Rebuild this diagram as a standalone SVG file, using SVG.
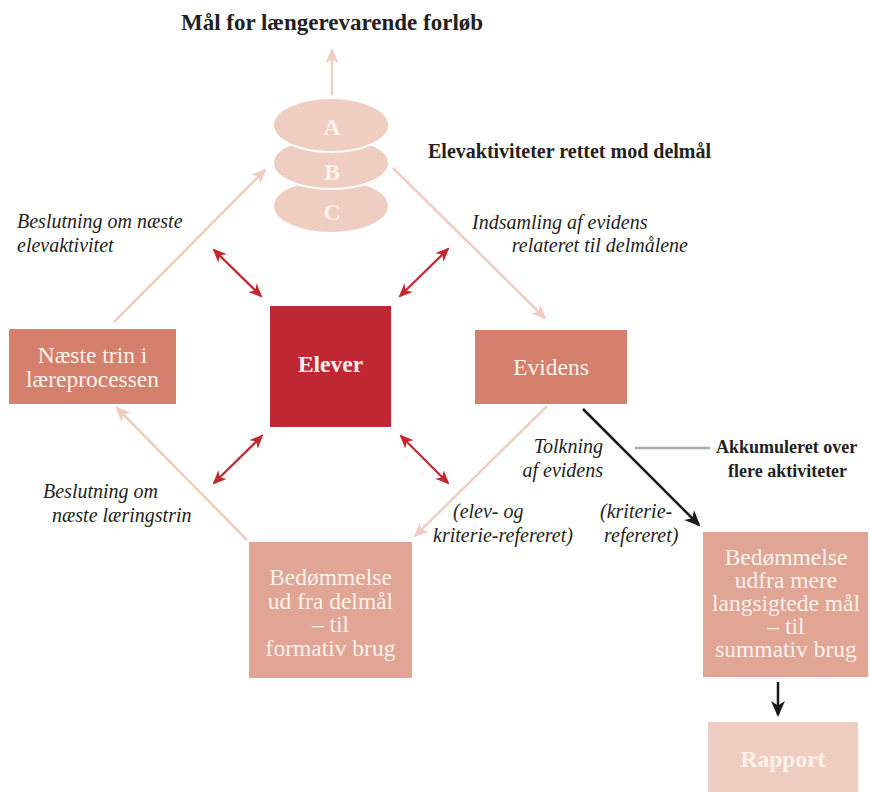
<svg xmlns="http://www.w3.org/2000/svg" width="870" height="792" viewBox="0 0 870 792">
<style>
.t{font-family:"Liberation Serif","Times New Roman",serif;fill:#231f20}
.b{font-weight:bold}
.i{font-style:italic;font-size:20px}
.n{font-family:"Liberation Serif","Times New Roman",serif;fill:#fcf1ec;font-size:23.5px;text-anchor:middle}
.lt{stroke:#f0cdc1;stroke-width:2.5;fill:none}
.rd{stroke:#c1272d;stroke-width:2.2;fill:none}
.bk{stroke:#1a1a1a;stroke-width:2.5;fill:none}
</style>
<defs>
<marker id="ml" markerUnits="userSpaceOnUse" markerWidth="18" markerHeight="14" refX="13" refY="6.5" orient="auto-start-reverse"><path d="M0,0 L15,6.5 L0,13 L4,6.5 z" fill="#f0cdc1"/></marker>
<marker id="mr" markerUnits="userSpaceOnUse" markerWidth="18" markerHeight="14" refX="12" refY="6" orient="auto-start-reverse"><path d="M0,0 L14,6 L0,12 L4,6 z" fill="#c1272d"/></marker>
<marker id="mb" markerUnits="userSpaceOnUse" markerWidth="20" markerHeight="16" refX="14" refY="7" orient="auto"><path d="M0,0 L16,7 L0,14 L4.5,7 z" fill="#1a1a1a"/></marker>
</defs>

<text class="t b" x="332" y="30" font-size="23" text-anchor="middle">Mål for længerevarende forløb</text>

<g id="connectors">
<line class="lt" x1="332" y1="95" x2="332" y2="50" marker-end="url(#ml)"/>
<line class="lt" x1="114" y1="322" x2="265" y2="170" marker-end="url(#ml)"/>
<line class="lt" x1="393" y1="168" x2="545" y2="318" marker-end="url(#ml)"/>
<line class="lt" x1="547" y1="406" x2="415" y2="536" marker-end="url(#ml)"/>
<line class="lt" x1="247" y1="540" x2="117" y2="408" marker-end="url(#ml)"/>
<line class="rd" x1="214" y1="250" x2="261" y2="296" marker-start="url(#mr)" marker-end="url(#mr)"/>
<line class="rd" x1="448" y1="249" x2="400" y2="296" marker-start="url(#mr)" marker-end="url(#mr)"/>
<line class="rd" x1="262" y1="436" x2="214" y2="483" marker-start="url(#mr)" marker-end="url(#mr)"/>
<line class="rd" x1="401" y1="436" x2="448" y2="483" marker-start="url(#mr)" marker-end="url(#mr)"/>
<line class="bk" x1="583" y1="409" x2="699" y2="525" marker-end="url(#mb)"/>
<line class="bk" x1="778" y1="682" x2="778" y2="715" marker-end="url(#mb)"/>
<line x1="635" y1="448" x2="710" y2="448" stroke="#a7a9ac" stroke-width="2.5"/>
</g>

<g id="stack">
<ellipse cx="331" cy="206" rx="58" ry="27" fill="#f0cdc1" stroke="#fff" stroke-width="2"/>
<ellipse cx="331" cy="163" rx="58" ry="26" fill="#f0cdc1" stroke="#fff" stroke-width="2"/>
<ellipse cx="331" cy="125" rx="58" ry="27" fill="#f0cdc1" stroke="#fff" stroke-width="2"/>
<text class="n b" x="332" y="135" font-size="19">A</text>
<text class="n b" x="332" y="180" font-size="19">B</text>
<text class="n b" x="332" y="220" font-size="19">C</text>
</g>

<text class="t b" x="428" y="158" font-size="20">Elevaktiviteter rettet mod delmål</text>

<g id="labels">
<text class="t i" x="17" y="228">Beslutning om næste</text>
<text class="t i" x="17" y="252">elevaktivitet</text>
<text class="t i" x="472" y="229">Indsamling af evidens</text>
<text class="t i" x="688" y="252" text-anchor="end">relateret til delmålene</text>
<text class="t i" x="603" y="453" text-anchor="end">Tolkning</text>
<text class="t i" x="603" y="477" text-anchor="end">af evidens</text>
<text class="t i" x="453" y="518">(elev- og</text>
<text class="t i" x="433" y="542">kriterie-refereret)</text>
<text class="t i" x="600" y="518">(kriterie-</text>
<text class="t i" x="604" y="542">refereret)</text>
<text class="t i" x="43" y="498">Beslutning om</text>
<text class="t i" x="52" y="522">næste læringstrin</text>
<text class="t b" x="716" y="453" font-size="18">Akkumuleret over</text>
<text class="t b" x="728" y="477" font-size="18">flere aktiviteter</text>
</g>

<g id="naeste">
<rect x="9" y="329" width="167" height="75" fill="#d4806c"/>
<text class="n" x="92.5" y="363">Næste trin i</text>
<text class="n" x="92.5" y="387">læreprocessen</text>
</g>

<g id="elever">
<rect x="270" y="306" width="121" height="121" fill="#bf2733"/>
<text class="n b" x="330.5" y="372" font-size="22">Elever</text>
</g>

<g id="evidens">
<rect x="475" y="330" width="152" height="74" fill="#d4806c"/>
<text class="n" x="551" y="375">Evidens</text>
</g>

<g id="formativ">
<rect x="249" y="542" width="163" height="136" fill="#e0a594"/>
<text class="n" x="330.5" y="585">Bedømmelse</text>
<text class="n" x="330.5" y="609">ud fra delmål</text>
<text class="n" x="330.5" y="632">– til</text>
<text class="n" x="330.5" y="656">formativ brug</text>
</g>

<g id="summativ">
<rect x="703" y="532" width="165" height="145" fill="#e0a594"/>
<text class="n" x="786" y="565">Bedømmelse</text>
<text class="n" x="786" y="588">udfra mere</text>
<text class="n" x="786" y="611">langsigtede mål</text>
<text class="n" x="786" y="634">– til</text>
<text class="n" x="786" y="657">summativ brug</text>
</g>

<g id="rapport">
<rect x="708" y="722" width="150" height="70" fill="#f0cdc1"/>
<text class="n b" x="783" y="767" font-size="22">Rapport</text>
</g>
</svg>
